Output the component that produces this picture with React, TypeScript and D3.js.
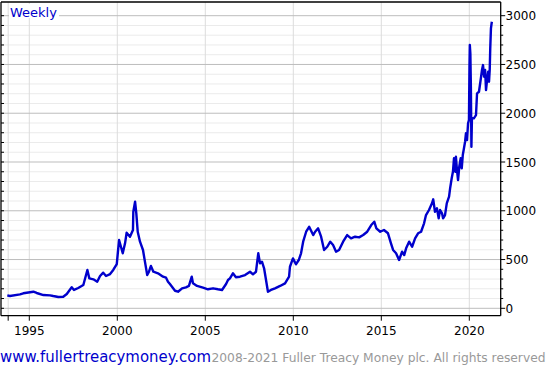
import React from "react";
import * as d3 from "d3";

const years: number[] = [
  1993.75, 1993.9, 1994.47, 1994.66, 1995.23, 1995.42, 1995.8, 1996.18, 1996.36, 1996.65, 1996.93,
  1997.13, 1997.41, 1997.54, 1997.78, 1998.07, 1998.3, 1998.41, 1998.64, 1998.86, 1999.02, 1999.2,
  1999.36, 1999.59, 1999.77, 1999.97, 2000.1, 2000.31, 2000.44, 2000.53, 2000.72, 2000.89, 2000.91,
  2001.01, 2001.08, 2001.16, 2001.29, 2001.46, 2001.57, 2001.7, 2001.8, 2001.91, 2002.05, 2002.31,
  2002.6, 2002.77, 2002.88, 2002.99, 2003.28, 2003.45, 2003.68, 2003.9, 2004.07, 2004.23, 2004.3,
  2004.53, 2004.87, 2005.15, 2005.44, 2005.72, 2005.95, 2006.18, 2006.29, 2006.4, 2006.57, 2006.74,
  2006.97, 2007.26, 2007.54, 2007.71, 2007.88, 2008.01, 2008.11, 2008.22, 2008.34, 2008.45, 2008.56,
  2008.73, 2008.96, 2009.25, 2009.53, 2009.76, 2009.81, 2009.98, 2010.15, 2010.31, 2010.44, 2010.56,
  2010.73, 2010.9, 2011.13, 2011.24, 2011.41, 2011.58, 2011.75, 2011.93, 2012.1, 2012.26, 2012.43,
  2012.6, 2012.83, 2013.06, 2013.28, 2013.51, 2013.74, 2013.97, 2014.2, 2014.43, 2014.6, 2014.72,
  2014.94, 2015.15, 2015.38, 2015.55, 2015.67, 2015.84, 2016.01, 2016.18, 2016.3, 2016.41, 2016.58,
  2016.75, 2016.92, 2017.09, 2017.26, 2017.43, 2017.54, 2017.71, 2017.88, 2017.95, 2018.05, 2018.16,
  2018.26, 2018.34, 2018.45, 2018.51, 2018.62, 2018.72, 2018.85, 2018.91, 2019.0, 2019.07, 2019.13,
  2019.2, 2019.24, 2019.3, 2019.36, 2019.43, 2019.51, 2019.57, 2019.63, 2019.68, 2019.76, 2019.81,
  2019.87, 2019.93, 2019.98, 2020.01, 2020.03, 2020.06, 2020.09, 2020.12, 2020.15, 2020.26, 2020.38,
  2020.44, 2020.55, 2020.67, 2020.72, 2020.78, 2020.84, 2020.9, 2020.95, 2021.01, 2021.07, 2021.12,
  2021.16, 2021.19, 2021.23, 2021.28,
];

const values: number[] = [
  133, 126, 143, 154, 170, 157, 136, 133, 126, 116, 119,
  147, 215, 188, 208, 239, 393, 307, 297, 273, 331, 365,
  331, 351, 393, 454, 700, 564, 666, 775, 734, 803, 990,
  1093, 974, 785, 683, 598, 478, 341, 375, 434, 375, 359,
  324, 314, 273, 249, 180, 170, 205, 215, 229, 324, 256,
  229, 211, 195, 205, 195, 188, 249, 290, 307, 359, 318,
  324, 341, 375, 348, 375, 564, 461, 478, 410, 290, 170,
  188, 205, 229, 256, 324, 426, 512, 451, 495, 564, 683,
  785, 836, 751, 785, 820, 734, 598, 631, 683, 649, 580,
  598, 683, 751, 717, 734, 727, 751, 785, 854, 888, 820,
  785, 803, 769, 666, 598, 564, 495, 580, 546, 615, 683,
  631, 717, 769, 785, 871, 956, 1008, 1076, 1117, 990, 1025,
  922, 1008, 974, 922, 956, 1076, 1144, 1230, 1333, 1400, 1538,
  1400, 1554, 1418, 1315, 1451, 1538, 1435, 1571, 1623, 1708, 1794,
  1725, 1896, 1930, 2476, 2699, 2614, 2271, 1656, 1948, 1948, 1980,
  2204, 2220, 2374, 2443, 2494, 2374, 2443, 2237, 2340, 2425, 2323,
  2443, 2665, 2870, 2938,
];

const xTickYears: number[] = [1995, 2000, 2005, 2010, 2015, 2020];
const xStartTick: number = 1993.8;
const yMajorTicks: number[] = [0, 500, 1000, 1500, 2000, 2500, 3000];
const yMinorTicks: number[] = d3.range(0, 3001, 100);

const W = 550;
const H = 371;
const left = 1;
const right = 500.7;
const top = 2;
const bottom = 315.7;

export default function App() {
  const x = d3.scaleLinear().domain([1995, 2020]).range([29.3, 469.3]);
  const y = d3.scaleLinear().domain([0, 3000]).range([308.3, 15.7]);
  const pts: [number, number][] = years.map((yr, i) => [yr, values[i]]);
  const line = d3
    .line<[number, number]>()
    .x((d) => x(d[0]))
    .y((d) => y(d[1]));
  const font = "DejaVu Sans, Verdana, sans-serif";
  const allX = [xStartTick, ...xTickYears];

  return (
    <svg
      width={W}
      height={H}
      style={{ position: "absolute", left: 0, top: 0, background: "#fff" }}
      fontFamily={font}
    >
      <rect x={0} y={0} width={W} height={H} fill="#fff" />
      {yMinorTicks
        .filter((v) => v % 500 !== 0)
        .map((v) => (
          <line key={"mg" + v} x1={left} x2={right} y1={y(v)} y2={y(v)} stroke="#ebebeb" strokeWidth={1} />
        ))}
      {allX.map((t) => (
        <line key={"vg" + t} x1={x(t)} x2={x(t)} y1={top} y2={bottom} stroke="#dcdcdc" strokeWidth={1} />
      ))}
      {yMajorTicks.map((v) => (
        <line key={"Mg" + v} x1={left} x2={right} y1={y(v)} y2={y(v)} stroke="#bdbdbd" strokeWidth={1} />
      ))}
      {yMinorTicks.map((v) => (
        <line key={"lt" + v} x1={left} x2={left + 3} y1={y(v)} y2={y(v)} stroke="#000" strokeWidth={1} />
      ))}
      {yMinorTicks.map((v) => (
        <line
          key={"rt" + v}
          x1={right}
          x2={right + (v % 500 === 0 ? 4.5 : 2.5)}
          y1={y(v)}
          y2={y(v)}
          stroke="#000"
          strokeWidth={1}
        />
      ))}
      <path d={line(pts) || ""} fill="none" stroke="#0000cc" strokeWidth={2.4} strokeLinejoin="round" />
      <rect x={9} y={4} width={50} height={14} fill="#fff" />
      <text x={10} y={17} fontSize={13} fill="#0000cc">
        Weekly
      </text>
      <line x1={left} x2={left} y1={top} y2={bottom} stroke="#000" strokeWidth={1.3} />
      <line x1={left} x2={right} y1={top} y2={top} stroke="#000" strokeWidth={1.3} />
      <line x1={right} x2={right} y1={top} y2={bottom} stroke="#000" strokeWidth={1.3} />
      <line x1={left} x2={right} y1={bottom} y2={bottom} stroke="#000" strokeWidth={1.3} />
      {allX.map((t) => (
        <line key={"bt" + t} x1={x(t)} x2={x(t)} y1={bottom} y2={bottom + 5} stroke="#000" strokeWidth={1} />
      ))}
      {xTickYears.map((t) => (
        <text key={"xl" + t} x={x(t)} y={335} fontSize={12} textAnchor="middle" fill="#000">
          {t}
        </text>
      ))}
      {yMajorTicks.map((v) => (
        <text key={"yl" + v} x={505.5} y={y(v) + 4.5} fontSize={12} fill="#000">
          {v}
        </text>
      ))}
      <text x={0} y={361.5} fontSize={15.5} fill="#0000cc" textLength={211} lengthAdjust="spacingAndGlyphs">
        www.fullertreacymoney.com
      </text>
      <text x={211.5} y={361.5} fontSize={12} fill="#999" textLength={334} lengthAdjust="spacingAndGlyphs">
        2008-2021 Fuller Treacy Money plc. All rights reserved
      </text>
    </svg>
  );
}
